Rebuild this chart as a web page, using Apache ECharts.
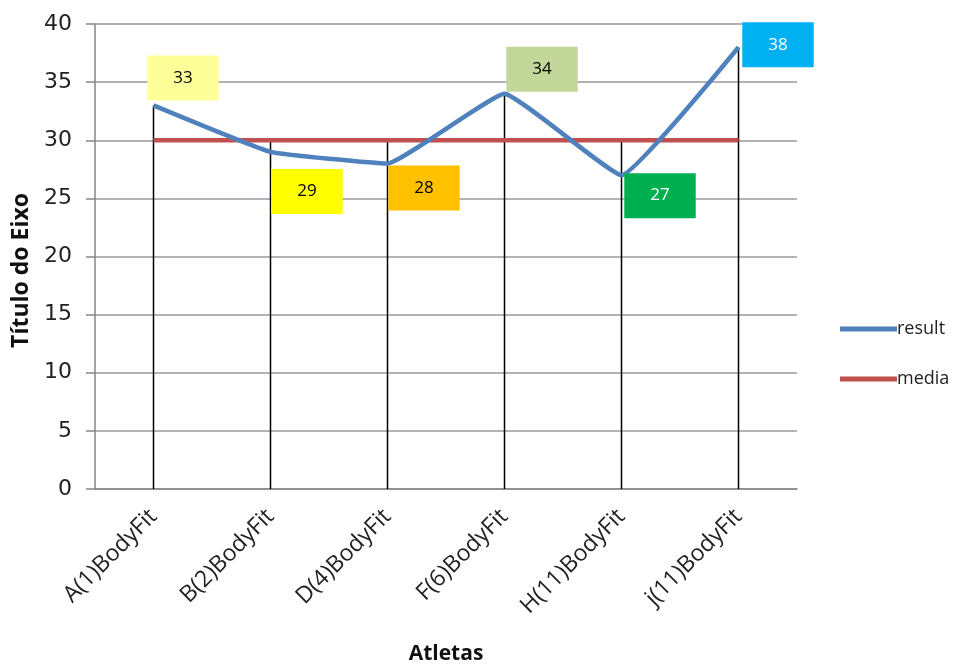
<!DOCTYPE html>
<html>
<head>
<meta charset="utf-8">
<script src="https://cdn.jsdelivr.net/npm/echarts@6/dist/echarts.min.js"></script>
<style>
  html, body { margin: 0; padding: 0; background: #fff; }
  #chart { width: 962px; height: 665px; }
</style>
</head>
<body>
<div id="chart"></div>
<script>
// Athletes and their results
const categories = ['A(1)BodyFit', 'B(2)BodyFit', 'D(4)BodyFit', 'F(6)BodyFit', 'H(11)BodyFit', 'j(11)BodyFit'];
const resultValues = [33, 29, 28, 34, 27, 38];
const mediaValues = [30, 30, 30, 30, 30, 30];
const yTicks = { min: 0, max: 40, interval: 5 };

// Per-point label box styling (fill, text colour, offset of box centre from the point)
const labelFills = ['#FFFF99', '#FFFF00', '#FFC000', '#C4D79B', '#00B050', '#00B0F0'];
const labelTextColors = ['#000', '#000', '#000', '#000', '#fff', '#fff'];
const labelOffsets = [[30, -27], [37, 40], [37, 25], [38, -24], [39, 21], [40, -2]];

// Drop lines reach from the axis to the highest of the two series at each category
const dropTops = categories.map((c, i) => [i, Math.max(resultValues[i], mediaValues[i])]);

const chart = echarts.init(document.getElementById('chart'));

const resultData = resultValues.map((v, i) => ({
  value: v,
  label: {
    show: true,
    position: labelOffsets[i],
    align: 'center',
    verticalAlign: 'middle',
    backgroundColor: labelFills[i],
    color: labelTextColors[i],
    fontFamily: 'Open Sans',
    fontSize: 17,
    lineHeight: 21,
    padding: [12, 26, 12, 26]
  }
}));

chart.setOption({
  animation: false,
  backgroundColor: '#fff',
  grid: { left: 95, right: 165, top: 24, bottom: 176, outerBoundsMode: 'none', containLabel: false },
  legend: {
    orient: 'vertical',
    left: 835,
    top: 314,
    itemWidth: 57,
    itemHeight: 5,
    itemGap: 30,
    icon: 'rect',
    textStyle: { fontFamily: 'Open Sans', fontSize: 18, lineHeight: 20, color: '#222', padding: [0, 0, 0, -5] },
    data: ['result', 'media']
  },
  xAxis: {
    type: 'category',
    data: categories,
    boundaryGap: true,
    name: 'Atletas',
    nameLocation: 'middle',
    nameGap: 155,
    nameTextStyle: { fontFamily: 'Open Sans', fontWeight: 'bold', fontSize: 21, color: '#111' },
    axisLine: { lineStyle: { color: '#868686', width: 1.5 } },
    axisTick: { show: false },
    axisLabel: {
      interval: 0,
      rotate: 45,
      margin: 24,
      fontFamily: 'Open Sans',
      fontSize: 23,
      color: '#222'
    },
    splitLine: { show: false }
  },
  yAxis: {
    type: 'value',
    min: yTicks.min,
    max: yTicks.max,
    interval: yTicks.interval,
    name: 'Título do Eixo',
    nameLocation: 'middle',
    nameGap: 62,
    nameRotate: 90,
    nameTextStyle: { fontFamily: 'Open Sans', fontWeight: 'bold', fontSize: 23, color: '#111', padding: [0, 28, 0, 0] },
    axisLine: { show: true, lineStyle: { color: '#868686', width: 1.5 } },
    axisTick: { show: true, inside: false, length: 9, lineStyle: { color: '#868686', width: 1.5 } },
    axisLabel: { margin: 23, fontFamily: 'DejaVu Sans', fontSize: 22, color: '#222' },
    splitLine: { lineStyle: { color: '#9a9a9a', width: 1.5 } }
  },
  series: [
    {
      name: 'drop',
      type: 'custom',
      z: 1,
      silent: true,
      data: dropTops,
      renderItem: function (params, api) {
        const top = api.coord([api.value(0), api.value(1)]);
        const bottom = api.coord([api.value(0), 0]);
        return {
          type: 'line',
          shape: { x1: top[0], y1: top[1], x2: bottom[0], y2: bottom[1] },
          style: { stroke: '#000', lineWidth: 1.5 }
        };
      }
    },
    {
      name: 'media',
      type: 'line',
      z: 2,
      data: mediaValues,
      symbol: 'none',
      lineStyle: { color: '#C0504D', width: 4.5 },
      itemStyle: { color: '#C0504D' }
    },
    {
      name: 'result',
      type: 'line',
      z: 3,
      data: resultData,
      smooth: 0.1,
      symbol: 'circle',
      symbolSize: 1,
      lineStyle: { color: '#4F81BD', width: 4.5 },
      itemStyle: { color: '#4F81BD' }
    }
  ]
});
</script>
</body>
</html>
